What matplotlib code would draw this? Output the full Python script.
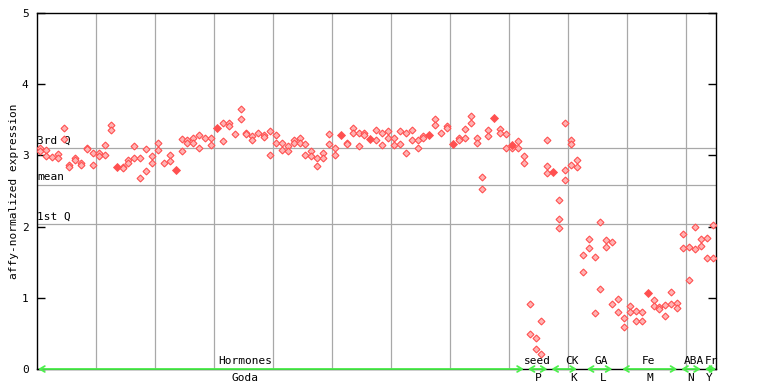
import matplotlib
matplotlib.use("Agg")
import matplotlib.pyplot as plt

# ---------------- data ----------------
# replicate values per sample column (hollow diamonds)
replicates = [
    [3.11, 3.06], [3.07, 2.99], [2.98], [3.02, 2.97], [3.39, 3.23],
    [2.87, 2.84], [2.96, 2.93], [2.89, 2.86], [3.11, 3.09], [3.04, 2.86],
    [3.04, 2.99], [3.14, 3.00], [3.42, 3.36], [], [2.84, 2.82],
    [2.93, 2.90], [3.13, 2.96], [2.96, 2.68], [3.09, 2.78], [2.99, 2.89],
    [3.18, 3.07], [2.89], [3.01, 2.92], [], [3.23, 3.06],
    [3.21, 3.18], [3.25, 3.17], [3.28, 3.10], [3.24], [3.24, 3.14],
    [], [3.45, 3.20], [3.45, 3.41], [3.30], [3.65, 3.51],
    [3.32, 3.30], [3.27, 3.21], [3.32], [3.29, 3.26], [3.34, 3.00],
    [3.28, 3.18], [3.18, 3.08], [3.13, 3.06], [3.21, 3.17], [3.24, 3.17],
    [3.16, 3.00], [3.06, 2.99], [2.96, 2.85], [3.03, 2.96], [3.30, 3.16],
    [3.11, 3.00], [], [3.18, 3.16], [3.39, 3.31], [3.31, 3.13],
    [3.31, 3.28], [], [3.35, 3.22], [3.31, 3.14], [3.34, 3.24],
    [3.25, 3.14], [3.34, 3.16], [3.31, 3.04], [3.35, 3.22], [3.21, 3.10],
    [3.27, 3.24], [], [3.51, 3.42], [3.31], [3.41, 3.38],
    [], [3.25, 3.21], [3.37, 3.24], [3.55, 3.45], [3.25, 3.18],
    [2.69, 2.53], [3.35, 3.27], [], [3.37, 3.31], [3.30, 3.10],
    [3.11], [3.20, 3.10], [2.99, 2.90], [0.91, 0.49], [0.43, 0.28],
    [0.68, 0.21], [3.21, 2.85, 2.75], [], [2.38, 2.11, 1.98], [3.45, 2.80, 2.65],
    [3.21, 3.16, 2.86], [2.93, 2.84], [1.60, 1.36], [1.82, 1.70], [1.58, 0.78],
    [2.06, 1.13], [1.81, 1.71], [1.78, 0.91], [0.98, 0.80], [0.71, 0.59],
    [0.88, 0.80], [0.81, 0.68], [0.80, 0.67], [], [0.97, 0.88],
    [0.87, 0.84], [0.90, 0.74], [1.08, 0.91], [0.92, 0.85], [1.89, 1.70],
    [1.71, 1.25], [1.99, 1.68], [1.82, 1.73], [1.84, 1.56], [2.02, 1.56],
]
# single-value samples (solid diamonds)
solid_cols = [13, 23, 30, 51, 56, 66, 70, 77, 80, 87, 103]
solid_vals = [2.84, 2.80, 3.39, 3.29, 3.23, 3.28, 3.16, 3.53, 3.14, 2.77, 1.07]

# summary lines
q3_value = 3.10
mean_value = 2.58
q1_value = 2.03

# experiment groups
group_top = ["Hormones", "seed", "CK", "GA", "Fe", "ABA", "Fr"]
group_bottom = ["Goda", "P", "K", "L", "M", "N", "Y"]
group_start = [0, 83, 87, 93, 99, 109, 113]
group_end = [82, 86, 91, 97, 108, 112, 114.6]

y_ticks = [0, 1, 2, 3, 4, 5]

# ---------------- layout ----------------
top_label_pos = [34.8, 84.3, 90.2, 95.2, 103.2, 110.9, 113.8]
bottom_label_pos = [34.8, 84.4, 90.5, 95.4, 103.4, 110.3, 113.4]

RED = "#ff5050"
FACE = "#ffb4b4"
GRID = "#a8a8a8"
GREEN = "#4cf04c"
FONT = "DejaVu Sans Mono"
FS = 8

fig = plt.figure(figsize=(7.68, 3.84), dpi=100)
ax = fig.add_axes([37 / 768, 15 / 384, 679 / 768, 356 / 384])

n_cols = len(replicates)
ax.set_xlim(-0.5, n_cols - 0.42)
ax.set_ylim(0, 5)

# vertical grid every 10 samples
for gx in range(10, n_cols, 10):
    ax.axvline(gx - 0.5, color=GRID, lw=0.9, zorder=1)
for yv in (q3_value, mean_value, q1_value):
    ax.axhline(yv, color=GRID, lw=0.9, zorder=1)

txt_kw = dict(fontsize=FS, family=FONT, color="black")
ax.text(-0.45, q3_value + 0.04, "3rd Q", ha="left", va="bottom", **txt_kw)
ax.text(-0.45, mean_value + 0.04, "mean", ha="left", va="bottom", **txt_kw)
ax.text(-0.45, q1_value + 0.04, "1st Q", ha="left", va="bottom", **txt_kw)

# points
hx, hy = [], []
for i, vals in enumerate(replicates):
    for v in vals:
        hx.append(i)
        hy.append(v)
ax.plot(hx, hy, linestyle="none", marker="D", ms=3.5, mfc=FACE, mec=RED,
        mew=0.8, zorder=3)
ax.plot(solid_cols, solid_vals, linestyle="none", marker="D", ms=4.2,
        mfc=RED, mec=RED, mew=0.6, zorder=4)

# group bars
for name_t, name_b, s, e, pt, pb in zip(group_top, group_bottom, group_start,
                                        group_end, top_label_pos, bottom_label_pos):
    ax.annotate("", xy=(e, 0), xytext=(s - 0.3, 0),
                arrowprops=dict(arrowstyle="<->,head_length=0.5,head_width=0.3",
                                color=GREEN, lw=1.3,
                                mutation_scale=7, shrinkA=0, shrinkB=0),
                annotation_clip=False, zorder=5)
    ax.text(pt, 0.04, name_t, ha="center", va="bottom", **txt_kw)
    ax.text(pb, -0.05, name_b, ha="center", va="top", clip_on=False, **txt_kw)

# axes styling
for sp in ax.spines.values():
    sp.set_color("black")
    sp.set_linewidth(1.0)
ax.set_xticks([])
ax.set_yticks(y_ticks)
ax.set_yticklabels([str(t) for t in y_ticks], family=FONT, fontsize=FS)
ax.tick_params(axis="y", direction="in", length=6, width=1, left=True,
               right=True, pad=6)

fig.text(14 / 768, 0.503, "affy-normalized expression", rotation=90,
         ha="center", va="center", family=FONT, fontsize=FS)

fig.savefig("out.png", dpi=100)
